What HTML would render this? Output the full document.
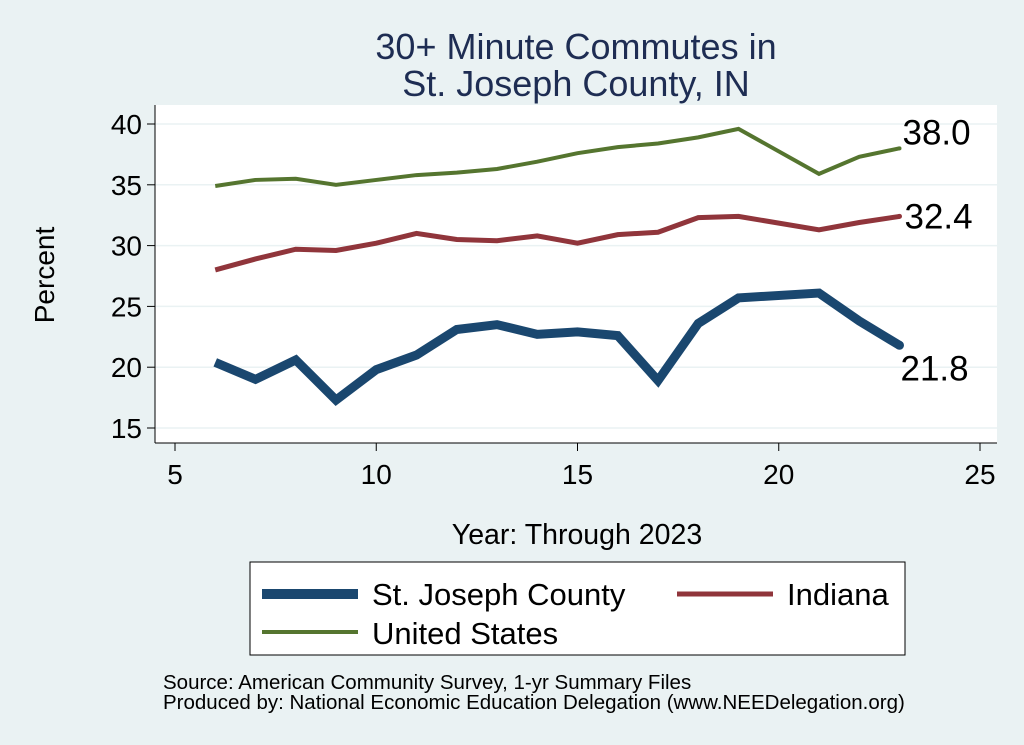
<!DOCTYPE html>
<html><head><meta charset="utf-8"><style>
body{margin:0;background:#eaf2f3;}
svg{display:block;font-family:"Liberation Sans",Arial,sans-serif;}
</style></head><body>
<svg id="c" width="1024" height="745">
<rect x="0" y="0" width="1024" height="745" fill="#eaf2f3"/>
<rect x="155" y="105" width="842" height="338" fill="#ffffff"/>
<text x="576" y="59" text-anchor="middle" font-size="36" fill="#1e2d53">30+ Minute Commutes in</text>
<text x="576" y="96" text-anchor="middle" font-size="36" fill="#1e2d53">St. Joseph County, IN</text>
<g id="grid"></g><g id="axes"></g><g id="series"></g>
<text x="54" y="275" text-anchor="middle" font-size="28" transform="rotate(-90 54 275)">Percent</text>
<text x="577" y="544" text-anchor="middle" font-size="28.5">Year: Through 2023</text>
<g>
<rect x="250" y="562" width="655" height="93" fill="#fff" stroke="#000" stroke-width="1"/>
<line x1="262" y1="594" x2="358" y2="594" stroke="#1a476f" stroke-width="10"/>
<text x="372" y="605" font-size="31">St. Joseph County</text>
<line x1="677" y1="594" x2="773" y2="594" stroke="#90353b" stroke-width="5"/>
<text x="787" y="605" font-size="31">Indiana</text>
<line x1="262" y1="632" x2="358" y2="632" stroke="#55752f" stroke-width="4"/>
<text x="372" y="644" font-size="31">United States</text>
</g>
<text x="163" y="689" font-size="20.5">Source: American Community Survey, 1-yr Summary Files</text>
<text x="163" y="709" font-size="20.5">Produced by: National Economic Education Delegation (www.NEEDelegation.org)</text>
</svg>
<script>
const years=[6,7,8,9,10,11,12,13,14,15,16,17,18,19,21,22,23];
const stjoseph=[20.4,19.0,20.6,17.3,19.8,21.0,23.1,23.5,22.7,22.9,22.6,18.9,23.6,25.7,26.1,23.8,21.8];
const indiana=[28.0,28.9,29.7,29.6,30.2,31.0,30.5,30.4,30.8,30.2,30.9,31.1,32.3,32.4,31.3,31.9,32.4];
const us=[34.9,35.4,35.5,35.0,35.4,35.8,36.0,36.3,36.9,37.6,38.1,38.4,38.9,39.6,35.9,37.3,38.0];
const xTicks=[5,10,15,20,25];
const yTicks=[15,20,25,30,35,40];
const NS='http://www.w3.org/2000/svg';
const xS=v=>175+(v-5)*(980-175)/20;
const yS=v=>428-(v-15)*(428-124)/25;
function mk(t,a,p){const e=document.createElementNS(NS,t);for(const k in a)e.setAttribute(k,a[k]);p.appendChild(e);return e;}
const grid=document.getElementById('grid'),axes=document.getElementById('axes'),ser=document.getElementById('series');
mk('line',{x1:155,y1:105,x2:155,y2:443,stroke:'#000','stroke-width':1},axes);
mk('line',{x1:155,y1:443,x2:997,y2:443,stroke:'#000','stroke-width':1},axes);
yTicks.forEach(v=>{
 const g=mk('line',{x1:155,y1:yS(v),x2:997,y2:yS(v),stroke:'#eaf2f3','stroke-width':1.5},grid);
 
 
 mk('line',{x1:147,y1:yS(v),x2:155,y2:yS(v),stroke:'#000'},axes);
 const t=mk('text',{x:142,y:yS(v)+10,'text-anchor':'end','font-size':28},axes);t.textContent=v;
 
 
});
xTicks.forEach(v=>{
 mk('line',{x1:xS(v),y1:443,x2:xS(v),y2:451,stroke:'#000'},axes);
 const t=mk('text',{x:xS(v),y:484,'text-anchor':'middle','font-size':28},axes);t.textContent=v;
 
 
});
function draw(vals,color,w,name,lx,ly){
 const d=years.map((y,i)=>(i?'L':'M')+xS(y)+','+yS(vals[i])).join(' ');
 const p=mk('path',{d:d,fill:'none',stroke:color,'stroke-width':w,'stroke-linejoin':'miter'},ser);
 
 
 const n=years.length-1;
 mk('circle',{cx:xS(years[n]),cy:yS(vals[n]),r:w/2,fill:color},ser);
 const t=mk('text',{x:xS(years[n])+lx,y:yS(vals[n])+ly,'font-size':35},ser);
 t.textContent=vals[n].toFixed(1);
 
 
}
draw(us,'#55752f',4,'us',3,-4);
draw(indiana,'#90353b',5,'indiana',5,12);
draw(stjoseph,'#1a476f',9,'stjoseph',1,35);
</script>
</body></html>
